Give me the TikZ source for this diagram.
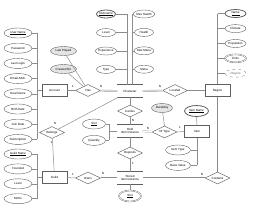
\documentclass[tikz,border=0pt]{standalone}
\usepackage{fontspec}
\setmainfont{Liberation Sans}
\usetikzlibrary{shapes.geometric, positioning}
\usepackage{xcolor}
\definecolor{edgeGrey}{RGB}{95,95,95}
\definecolor{lineGrey}{RGB}{140,140,140}
\definecolor{relFill}{RGB}{228,228,228}
\newcommand{\erfont}{\fontsize{3}{3.5}\selectfont}

\begin{document}
\begin{tikzpicture}[x=1pt, y=-1pt,
    entity/.style={rectangle, draw=edgeGrey, line width=0.6pt, minimum width=25pt, minimum height=11.5pt, inner sep=0.5pt, align=center, font=\erfont},
    weakentity/.style={entity, double=white, double distance=0.9pt, line width=0.45pt},
    attr/.style={ellipse, draw=edgeGrey, line width=0.4pt, minimum width=28pt, minimum height=10pt, inner sep=0pt, align=center, font=\erfont},
    keyattr/.style={attr, line width=0.8pt},
    relattr/.style={attr, fill=relFill},
    multiattr/.style={attr, double=white, double distance=0.6pt, line width=0.35pt},
    derivedattr/.style={attr, dashed, draw=lineGrey, text=edgeGrey},
    rel/.style={diamond, aspect=2.1, draw=edgeGrey, line width=0.45pt, minimum width=25pt, minimum height=12pt, inner sep=0.3pt, font=\erfont},
    link/.style={draw=lineGrey, line width=0.5pt},
    total/.style={draw=lineGrey, double=white, double distance=0.8pt, line width=0.4pt},
    card/.style={font=\erfont, inner sep=0.3pt}
]
\useasboundingbox (0,0) rectangle (256,210);

% entities
\node[entity] (account) at (54.5,90.5) {Account};
\node[weakentity] (character) at (130,91) {Character};
\node[entity] (region) at (217.5,90.5) {Region};
\node[weakentity] (held) at (130,131) {Held\\Item Instance};
\node[entity] (item) at (197,131.5) {Item};
\node[entity] (guild) at (54.5,177.5) {Guild};
\node[weakentity] (stored) at (130,178) {Stored\\Item Instance};

% relationships
\node[rel] (has) at (88,90.5) {Has};
\node[rel] (located) at (175,90.5) {Located};
\node[rel] (belongs) at (52,132.5) {Belongs};
\node[rel] (carries) at (130,111) {Carries};
\node[rel] (oftype) at (164.5,132) {Of Type};
\node[rel] (deposits) at (130,153) {Deposits};
\node[rel] (owns) at (88,178) {Owns};
\node[rel] (contains) at (217.5,178) {Contains};

% account attributes
\node[attr] (aName) at (18,33) {\underline{User Name}};
\node[attr, below=4.8pt of aName] (aPass) {Password};
\node[attr, below=4.8pt of aPass] (aLogin) {Last Login};
\node[attr, below=4.8pt of aLogin] (aMail) {Email Addr.};
\node[attr, below=4.8pt of aMail] (aReal) {Real Name};
\node[attr, below=4.8pt of aReal] (aBirth) {Birth Date};
\node[attr, below=4.8pt of aBirth] (aJoin) {Join Date};
\node[attr, below=4.8pt of aJoin] (aCountry) {Subscription};
\coordinate (accBus) at (37,0);

% has attributes
\node[relattr, minimum width=26pt, minimum height=9pt] (hPlayed) at (63.5,51) {Last Played};
\node[relattr, minimum width=26pt, minimum height=9pt] (hCreated) at (63.5,69) {Created On};

% character attributes
\node[keyattr, minimum width=19pt, minimum height=8pt] (cNick) at (106,14) {\underline{Nickname}};
\node[attr, minimum width=19pt, minimum height=8pt, below=10pt of cNick] (cLevel) {Level};
\node[attr, minimum width=19pt, minimum height=8pt, below=10pt of cLevel] (cExp) {Experience};
\node[attr, minimum width=19pt, minimum height=8pt, below=10pt of cExp] (cType) {Type};
\node[attr, minimum width=19pt, minimum height=8pt] (cMaxHp) at (144,14) {Max Health};
\node[attr, minimum width=19pt, minimum height=8pt, below=10pt of cMaxHp] (cHp) {Health};
\node[attr, minimum width=19pt, minimum height=8pt, below=10pt of cHp] (cMaxMp) {Max Mana};
\node[attr, minimum width=19pt, minimum height=8pt, below=10pt of cMaxMp] (cMp) {Mana};
\coordinate (charBusL) at (127,0);
\coordinate (charBusR) at (132,0);

% region attributes
\node[keyattr, minimum width=21pt, minimum height=8pt] (rName) at (235.5,13.5) {\underline{Name}};
\node[attr, minimum width=21pt, minimum height=8pt, below=6.5pt of rName] (rClimate) {Climate};
\node[attr, minimum width=21pt, minimum height=8pt, below=6.5pt of rClimate] (rPop) {Population};
\node[multiattr, minimum width=21pt, minimum height=8pt, below=6.5pt of rPop] (rExits) {Exits};
\node[derivedattr, minimum width=21pt, minimum height=8pt, below=6.5pt of rExits] (rPlayers) {Players};

% held item attributes
\node[attr, minimum width=23pt] (hSlot) at (94,124) {\underline{Slot}};
\node[attr, minimum width=23pt, below=6pt of hSlot] (hQty) {Quantity};
\coordinate (heldBus) at (109,0);

% item attributes
\node[relattr, minimum width=21pt, minimum height=9pt] (oDur) at (162,108) {Durability};
\node[keyattr, minimum width=24pt, minimum height=11pt] (iName) at (196.5,111) {\underline{Item Name}};
\node[attr, minimum width=25pt] (iType) at (178,150) {Item Type};
\node[attr, minimum width=25pt, below=5pt of iType] (iValue) {Base Value};

% guild attributes
\node[attr] (gName) at (18,154) {\underline{Guild Name}};
\node[attr, below=4.5pt of gName] (gFounded) {Founded};
\node[attr, below=4.5pt of gFounded] (gLevel) {Level};
\node[attr, below=4.5pt of gLevel] (gMotto) {Motto};

% stored item attribute
\node[multiattr, minimum width=22pt, minimum height=11pt] (sSlot) at (130,196) {\underline{Slot}};

% attribute brackets
\foreach \n in {aName,aPass,aLogin,aMail,aReal,aBirth,aJoin,aCountry}
  \draw[link] (\n.east) -- (\n.east -| accBus);
\draw[link] (aName.east -| accBus) -- (aCountry.east -| accBus);
\draw[link] (account.west) -- (account.west -| accBus);

\foreach \n in {gName,gFounded,gLevel,gMotto}
  \draw[link] (\n.east) -- (\n.east -| accBus);
\draw[link] (gName.east -| accBus) -- (gMotto.east -| accBus);
\draw[link] (guild.west) -- (guild.west -| accBus);

\foreach \n in {cNick,cLevel,cExp,cType}
  \draw[link] (\n.east) -- (\n.east -| charBusL);
\foreach \n in {cMaxHp,cHp,cMaxMp,cMp}
  \draw[link] (\n.west) -- (\n.west -| charBusR);
\draw[link] (cNick.east -| charBusL) -- (character.north -| charBusL);
\draw[link] (cMaxHp.west -| charBusR) -- (character.north -| charBusR);

\foreach \n in {rName,rClimate,rPop,rExits,rPlayers}
  \draw[link] (\n.west) -- (\n.west -| region.north);
\draw[link] (rName.west -| region.north) -- (region.north);

\foreach \n in {hSlot,hQty}
  \draw[link] (\n.east) -- (\n.east -| heldBus);
\draw[link] (hSlot.east -| heldBus) -- (hQty.east -| heldBus);
\draw[link] (held.west) -- (held.west -| heldBus);

\foreach \n in {iType,iValue}
  \draw[link] (\n.east) -- (\n.east -| item.south);
\draw[link] (item.south) -- (iValue.east -| item.south);
\draw[link] (iName) -- (item);

\draw[link] (hPlayed) -- (has);
\draw[link] (hCreated) -- (has);
\draw[link] (oDur) -- (oftype.north);
\draw[link] (stored) -- (sSlot);

% relationship connectors
\draw[link] (account) -- (has);
\draw[total] (has) -- (character);
\draw[total] (character) -- (located);
\draw[link] (located) -- (region);
\draw[link] (belongs) -- (character);
\draw[link] (belongs) -- (guild);
\draw[link] (character) -- (carries);
\draw[link] (carries) -- (held);
\draw[total] (held) -- (oftype);
\draw[link] (oftype) -- (item);
\draw[link] (held) -- (deposits);
\draw[link] (deposits) -- (stored);
\draw[link] (guild) -- (owns);
\draw[total] (owns) -- (stored);
\draw[link] (region) -- (contains);
\draw[total] (contains) -- (stored);

% cardinalities
\node[card] (k1) at (73,86) {1};
\node[card] (k2) at (101,86) {N};
\node[card] (k3) at (160,86) {N};
\node[card] (k4) at (55,123) {N};
\node[card] (k5) at (51.5,142.5) {1};
\node[card] (k6) at (133,120) {N};
\node[card] (k7) at (148,128) {N};
\node[card] (k8) at (180,127.5) {1};
\node[card] (k9) at (133,163) {1};
\node[card] (k10) at (73,174) {1};
\node[card] (k11) at (103,173.5) {N};
\node[card] (k12) at (202,174) {N};
\end{tikzpicture}
\end{document}
